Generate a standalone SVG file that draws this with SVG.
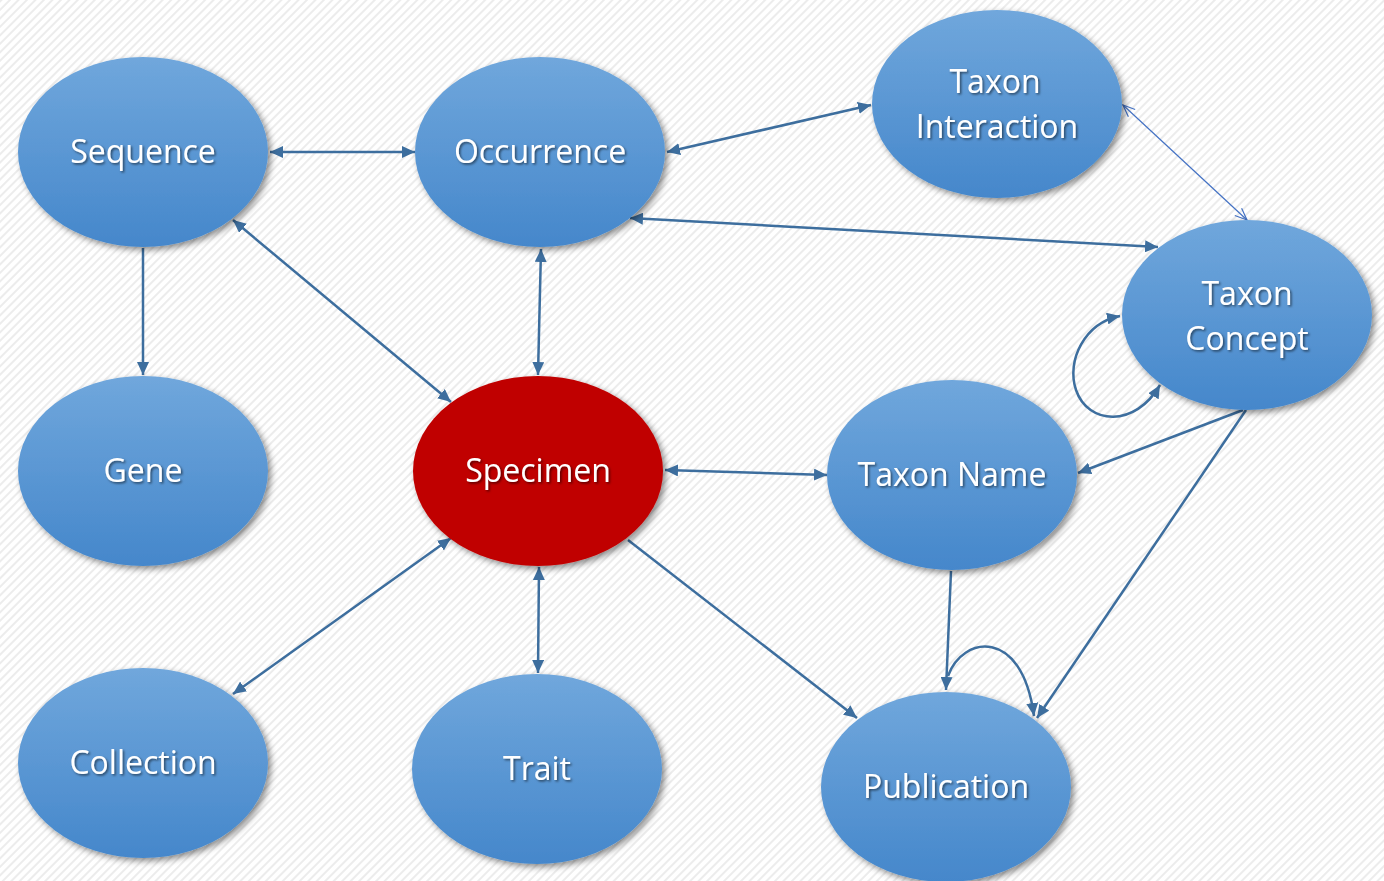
<svg xmlns="http://www.w3.org/2000/svg" width="1384" height="881" viewBox="0 0 1384 881">
<style>
.node{fill:url(#blue);filter:url(#sh)}
.red{fill:#c00000;filter:url(#sh)}
.lbl{font-family:"Open Sans","Noto Sans",sans-serif;font-size:32px;fill:#fff;text-anchor:middle;filter:url(#tsh)}
.c{fill:none;stroke:#3d6e9e;stroke-width:2.5}
.cs{marker-start:url(#ah);marker-end:url(#ah)}
.ce{marker-end:url(#ah)}
.thin{fill:none;stroke:#4472c4;stroke-width:1.2;marker-start:url(#oh);marker-end:url(#oh)}
</style>
<defs>
<pattern id="bg" width="6" height="6" patternUnits="userSpaceOnUse" patternTransform="rotate(-45)">
<rect width="6" height="6" fill="#ffffff"/>
<rect width="6" height="2" fill="#ececec"/>
</pattern>
<linearGradient id="blue" x1="0" y1="0" x2="0" y2="1">
<stop offset="0" stop-color="#70a7dc"/>
<stop offset="1" stop-color="#4587cb"/>
</linearGradient>
<filter id="sh" x="-20%" y="-20%" width="140%" height="140%">
<feDropShadow dx="3" dy="3" stdDeviation="3" flood-color="#000" flood-opacity="0.45"/>
</filter>
<filter id="tsh" x="-10%" y="-30%" width="120%" height="160%">
<feDropShadow dx="1.5" dy="1.5" stdDeviation="1" flood-color="#000" flood-opacity="0.55"/>
</filter>
<marker id="ah" markerUnits="userSpaceOnUse" markerWidth="14" markerHeight="12" refX="13" refY="6" orient="auto-start-reverse">
<path d="M0,0 L13,6 L0,12 z" fill="#3d6e9e"/>
</marker>
<marker id="oh" markerUnits="userSpaceOnUse" markerWidth="14" markerHeight="12" refX="13" refY="6" orient="auto-start-reverse">
<path d="M1,1 L13,6 L1,11" fill="none" stroke="#4472c4" stroke-width="1.2"/>
</marker>
</defs>
<rect width="1384" height="881" fill="url(#bg)"/>

<g id="connectors">
<path class="c cs" d="M270,152 L415,152"/>
<path class="c cs" d="M667,152 L871,105"/>
<path class="c cs" d="M630,218 L1158,247"/>
<path class="thin" d="M1123,105 L1247,220"/>
<path class="c ce" d="M143,248 L143,375"/>
<path class="c cs" d="M233,220 L451,402"/>
<path class="c cs" d="M541,249 L538,375"/>
<path class="c cs" d="M665,470 L827,475"/>
<path class="c cs" d="M451,538 L233,694"/>
<path class="c cs" d="M539,567 L538,673"/>
<path class="c ce" d="M628,540 L857,718"/>
<path class="c ce" d="M1243,410 L1078,473"/>
<path class="c ce" d="M1246,410 L1037,718"/>
<path class="c ce" d="M951,571 L946,690"/>
<path class="c cs" d="M1120,316 C1085,323 1066,360 1076,390 C1088,425 1135,428 1160,385"/>
<path class="c ce" d="M948,676 C962,636 1022,626 1034,716"/>
</g>

<g id="sequence"><ellipse class="node" cx="143" cy="152" rx="125" ry="95"/><text class="lbl" x="143" y="163">Sequence</text></g>
<g id="occurrence"><ellipse class="node" cx="540" cy="152" rx="125" ry="95"/><text class="lbl" x="540" y="163">Occurrence</text></g>
<g id="taxon-interaction"><ellipse class="node" cx="997" cy="104" rx="125" ry="94"/><text class="lbl" x="995" y="93">Taxon</text><text class="lbl" x="997" y="138">Interaction</text></g>
<g id="taxon-concept"><ellipse class="node" cx="1247" cy="315" rx="125" ry="95"/><text class="lbl" x="1247" y="305">Taxon</text><text class="lbl" x="1247" y="350">Concept</text></g>
<g id="gene"><ellipse class="node" cx="143" cy="471" rx="125" ry="95"/><text class="lbl" x="143" y="482">Gene</text></g>
<g id="specimen"><ellipse class="red" cx="538" cy="471" rx="125" ry="95"/><text class="lbl" x="538" y="482">Specimen</text></g>
<g id="taxon-name"><ellipse class="node" cx="952" cy="475" rx="125" ry="95"/><text class="lbl" x="952" y="486">Taxon Name</text></g>
<g id="collection"><ellipse class="node" cx="143" cy="763" rx="125" ry="95"/><text class="lbl" x="143" y="774">Collection</text></g>
<g id="trait"><ellipse class="node" cx="537" cy="769" rx="125" ry="95"/><text class="lbl" x="537" y="780">Trait</text></g>
<g id="publication"><ellipse class="node" cx="946" cy="787" rx="125" ry="95"/><text class="lbl" x="946" y="798">Publication</text></g>
</svg>
